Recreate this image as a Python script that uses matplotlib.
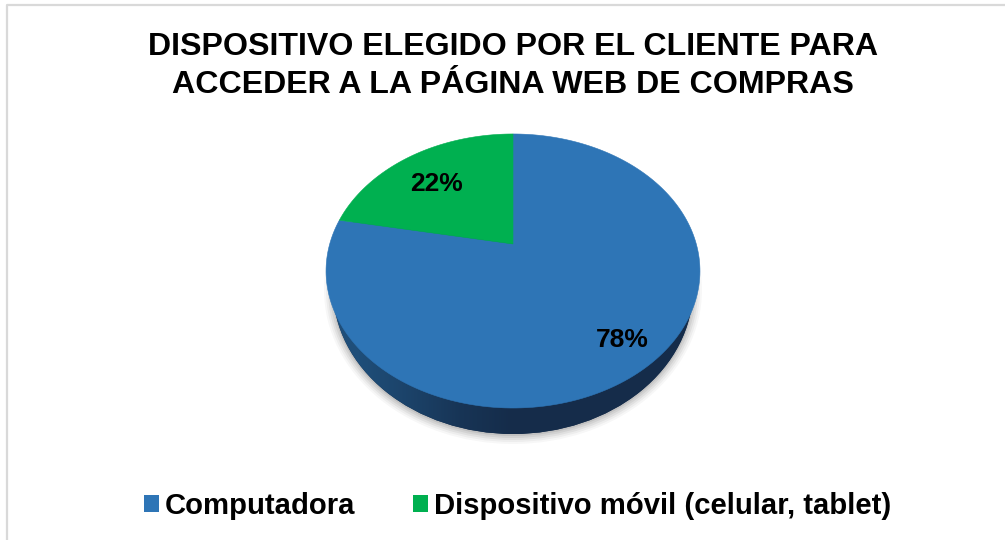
import numpy as np
import matplotlib
matplotlib.use('Agg')
import matplotlib.pyplot as plt
from matplotlib.patches import Ellipse, Patch

plt.rcParams['font.family'] = ['Liberation Sans', 'DejaVu Sans']

# Data
title = 'DISPOSITIVO ELEGIDO POR EL CLIENTE PARA\nACCEDER A LA PÁGINA WEB DE COMPRAS'
categories = ['Computadora', 'Dispositivo móvil (celular, tablet)']
shares = [78, 22]
colors = ['#2E75B6', '#00B050']

# Axes work in image pixels, y pointing down
fig = plt.figure(figsize=(10.05, 5.4), dpi=100)
ax = fig.add_axes([0, 0, 1, 1])
ax.set_xlim(0, 1005)
ax.set_ylim(540, 0)
ax.axis('off')

# Chart frame, runs off the right and bottom of the picture
ax.plot([7, 7, 1005], [540, 5, 5], color='#D9D9D9', lw=1.6)

# Pie geometry: a circle seen in perspective, hub sits above the ellipse centre
hub_x, hub_y = 513, 244
persp = 0.197
scale_x = 183.3
scale_y = 131.7


def project(angle):
    # angle in radians, clockwise from 12 o'clock
    u, v = np.sin(angle), np.cos(angle)
    w = 1 + persp * v
    return hub_x + scale_x * u / w, hub_y - scale_y * v / w


# Soft shadow under the rim
for grow, alpha in [(9, 0.03), (7, 0.04), (5, 0.05), (3, 0.06), (1, 0.08)]:
    ax.add_patch(Ellipse((513, 290), 2 * (180 + grow), 2 * (145 + grow),
                         color='black', alpha=alpha, lw=0))

# Rim with a left to right shading
rim = Ellipse((513, 289), 360, 290, color='#152C4A', lw=0)
ax.add_patch(rim)
shade = np.array([[0.0, 0.35, 0.75, 1.0, 1.0, 1.0, 1.0]])
rim_cmap = matplotlib.colors.LinearSegmentedColormap.from_list('rim', ['#1F4E79', '#152C4A'])
im = ax.imshow(shade, extent=(333, 693, 434, 144), cmap=rim_cmap, aspect='auto',
               interpolation='bilinear', zorder=2)
im.set_clip_path(rim)
ax.set_xlim(0, 1005)
ax.set_ylim(540, 0)

# Slices: the first one runs clockwise from 12 o'clock
edges = np.cumsum([0] + shares) / sum(shares) * 2 * np.pi
for i, color in enumerate(colors):
    t = np.linspace(edges[i], edges[i + 1], 200)
    x, y = project(t)
    ax.fill(np.r_[hub_x, x], np.r_[hub_y, y], color=color, lw=0.4, zorder=3)

# Percent labels
ax.text(622, 340, f'{shares[0]}%', fontsize=19, fontweight='bold', ha='center', va='center', zorder=4)
ax.text(436.5, 184, f'{shares[1]}%', fontsize=19, fontweight='bold', ha='center', va='center', zorder=4)

ax.text(513, 66, title, fontsize=23.1, fontweight='bold', ha='center', va='center',
        linespacing=1.33, zorder=4)

handles = [Patch(color=c, lw=0) for c in colors]
ax.legend(handles, categories, loc='center', bbox_to_anchor=(517.5 / 1005, 1 - 506 / 540),
          ncol=2, frameon=False, prop={'size': 21.1, 'weight': 'bold'},
          handlelength=0.52, handleheight=0.52, handletextpad=0.2, columnspacing=1.94,
          borderpad=0, borderaxespad=0)

fig.savefig('out.png', dpi=100)
